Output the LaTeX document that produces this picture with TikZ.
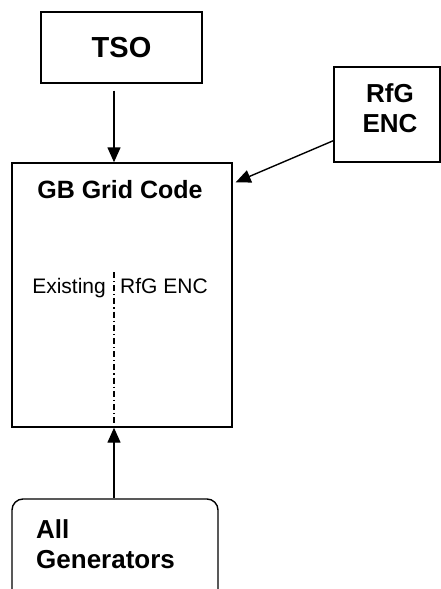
\documentclass[tikz,border=0pt]{standalone}
\usepackage{fontspec}
\setmainfont{Liberation Sans}
\usetikzlibrary{arrows.meta,calc}
\begin{document}
\begin{tikzpicture}[x=1pt,y=-1pt,
  box/.style={draw,line width=1.4pt,inner sep=0pt},
  lbl/.style={inner sep=0pt,font=\bfseries\fontsize{26}{30}\selectfont},
  plain/.style={inner sep=0pt,font=\fontsize{21}{25}\selectfont},
  arr/.style={line width=1.4pt,-{Triangle[length=15pt,width=13pt]}}]
\clip (0,0) rectangle (441,589);
\useasboundingbox (0,0) rectangle (441,589);
% boxes
\node[box,minimum width=161pt,minimum height=71pt] (tso) at (121.5,47.5) {};
\node[lbl,font=\bfseries\fontsize{29}{32}\selectfont] (tsot) at (121.5,47.5) {TSO};
\node[box,minimum width=106pt,minimum height=95pt] (rfg) at (387,114.5) {};
\node[lbl,align=center] (rfgt) at (390,108) {RfG\\ENC};
\node[box,minimum width=220pt,minimum height=264pt] (gb) at (122,295) {};
\node[lbl,font=\bfseries\fontsize{25}{30}\selectfont] (gbt) at (120,190) {GB Grid Code};
\node[box,rounded corners=11pt,minimum width=206pt,minimum height=110pt] (gen) at (115,554) {};
\node[lbl,align=left,anchor=north west] (gent) at (36,519) {All\\Generators};
% split inside the grid code box
\coordinate (axis) at (114,272);
\node[plain,anchor=base east] (ex) at (106,293) {Existing};
\node[plain,anchor=base west] (rn) at (120,293) {RfG ENC};
\draw[line width=1.2pt,dash pattern=on 6pt off 3pt on 1.2pt off 3pt] (axis) -- (axis |- gb.south);
% connectors
\draw[arr,shorten <=7pt] (tso.south -| axis) -- (gb.north -| axis);
\draw[arr] ($(rfg.south west)+(0,-22)$) -- ($(gb.north east)+(3,20)$);
\draw[arr] (gen.north -| axis) -- (gb.south -| axis);
\end{tikzpicture}
\end{document}
